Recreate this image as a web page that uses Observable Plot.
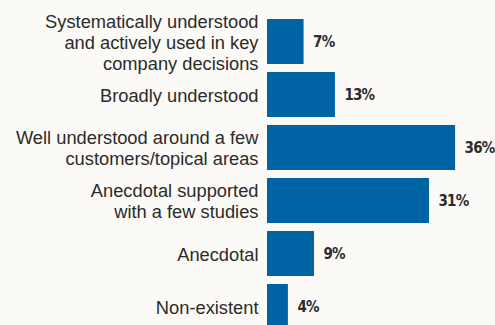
<!DOCTYPE html>
<html>
<head>
<meta charset="utf-8">
<script src="https://cdn.jsdelivr.net/npm/d3@7"></script>
<script src="https://cdn.jsdelivr.net/npm/@observablehq/plot@0.6"></script>
<style>
  html, body { margin: 0; padding: 0; background: #fcfaf6; }
  #chart svg { display: block; }
</style>
</head>
<body>
<div id="chart"></div>
<script>
const categories = [
  "Systematically understood\nand actively used in key\ncompany decisions",
  "Broadly understood",
  "Well understood around a few\ncustomers/topical areas",
  "Anecdotal supported\nwith a few studies",
  "Anecdotal",
  "Non-existent"
];
const values = [7, 13, 36, 31, 9, 4];
const valueLabels = ["7%", "13%", "36%", "31%", "9%", "4%"];

const data = categories.map((c, i) => ({category: c, value: values[i], label: valueLabels[i]}));

const chart = Plot.plot({
  width: 495,
  height: 325,
  marginLeft: 267,
  marginRight: 19,
  marginTop: 19,
  marginBottom: -4,
  style: {background: "#fcfaf6", overflow: "visible"},
  x: {domain: [0, 40], axis: null},
  y: {domain: categories, paddingInner: 0.16, paddingOuter: 0, axis: null},
  marks: [
    Plot.barX(data, {y: "category", x: "value", fill: "#0063a3"}),
    Plot.text(data, {
      y: "category", x: 0, text: "category", textAnchor: "end", dx: -9,
      fontSize: 18.3, lineHeight: 1.15, fill: "#2b2b2b",
      fontFamily: "'Liberation Sans', Arial, sans-serif"
    }),
    Plot.text(data, {
      y: "category", x: "value", text: "label", textAnchor: "start", dx: 9,
      fontSize: 15, fontWeight: "bold", fill: "#2b2b2b",
      fontFamily: "'DejaVu Sans Condensed', 'DejaVu Sans', sans-serif"
    })
  ]
});
d3.select(chart).selectAll('g[aria-label="text"]')
  .filter((d, i) => i === 1)
  .attr("letter-spacing", "-0.8")
  .attr("font-stretch", "condensed");
document.getElementById("chart").appendChild(chart);
</script>
</body>
</html>
